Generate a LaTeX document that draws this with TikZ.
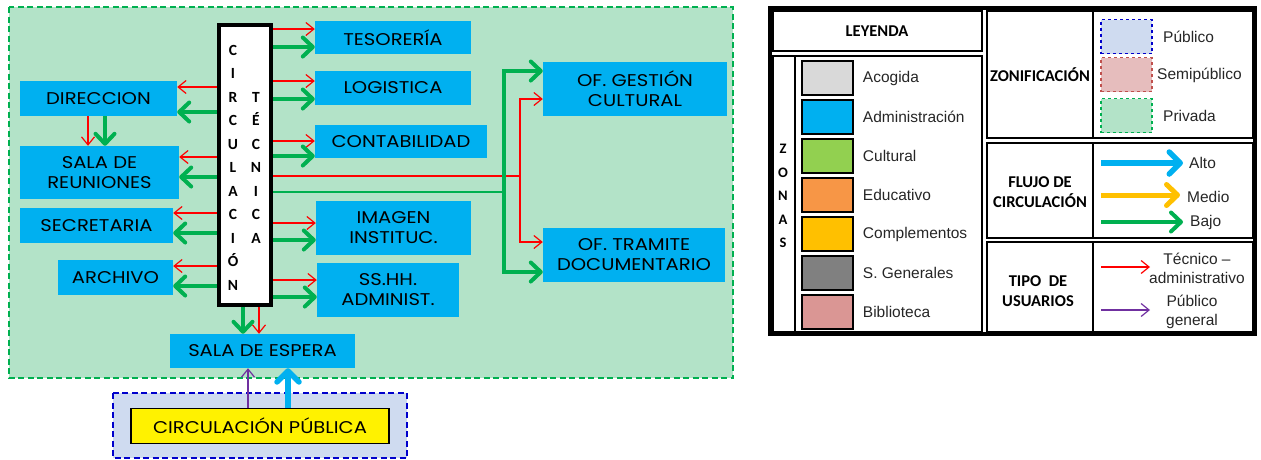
\documentclass[tikz,border=0pt]{standalone}
\usepackage{fontspec}
\setmainfont{Liberation Sans}
\newfontfamily\boxfont[FakeStretch=1.15]{Poppins}
\newfontfamily\capfont{Carlito}
\definecolor{adminBlue}  {HTML}{00B0F0}
\definecolor{privFill}   {HTML}{B3E3C8}
\definecolor{privLine}   {HTML}{00B050}
\definecolor{pubFill}    {HTML}{CFDBF0}
\definecolor{pubLine}    {HTML}{0000CC}
\definecolor{semiFill}   {HTML}{E6BDBD}
\definecolor{semiLine}   {HTML}{C0504D}
\definecolor{tecRed}     {HTML}{FF0000}
\definecolor{pubPurple}  {HTML}{7030A0}
\definecolor{medioYellow}{HTML}{FFC000}
\definecolor{zAcogida}   {HTML}{D9D9D9}
\definecolor{zCultural}  {HTML}{92D050}
\definecolor{zEducativo} {HTML}{F79646}
\definecolor{zGenerales} {HTML}{808080}
\definecolor{zBiblio}    {HTML}{DA9694}
\usetikzlibrary{
  arrows.meta,
  positioning,
}

\begin{document}
\begin{tikzpicture}[
  x=1pt, y=-1pt,
  box/.style={fill=adminBlue, inner sep=0pt, align=center,
    font=\boxfont\fontsize{17}{20}\selectfont},
  tec/.style={draw=tecRed, line width=1.2pt,
    -{Straight Barb[length=8pt,width=13pt]}},
  tecline/.style={draw=tecRed, line width=1.2pt},
  bajo/.style={draw=privLine, line width=4pt,
    -{Straight Barb[length=10pt,width=19pt,round]}},
  bajoline/.style={draw=privLine, line width=2.5pt},
  alto/.style={draw=adminBlue, line width=5.5pt,
    -{Straight Barb[length=11pt,width=22pt,round]}},
  medio/.style={draw=medioYellow, line width=5pt,
    -{Straight Barb[length=11pt,width=21pt,round]}},
  pub/.style={draw=pubPurple, line width=1.2pt,
    -{Straight Barb[length=8pt,width=13pt]}},
  cell/.style={draw, line width=1.6pt},
  cellhead/.style={font=\capfont\bfseries\fontsize{16.5}{19.5}\selectfont, align=center},
  swatch/.style={draw, line width=1.5pt, minimum width=51pt, minimum height=34pt, inner sep=0pt},
  lbl/.style={font=\fontsize{15.5}{19}\selectfont, text=black!85, inner sep=0pt, align=center},
  vtext/.style={font=\capfont\bfseries\fontsize{15.5}{23.5}\selectfont, align=center, inner sep=0pt},
]
  \useasboundingbox (0,0) rectangle (1261,459);

  % Zones
  \draw[privLine, line width=1.5pt, dash pattern=on 6pt off 3.5pt, fill=privFill]
    (9,7) rectangle (733,378);
  \draw[pubLine, line width=1.5pt, dash pattern=on 6pt off 3.5pt, fill=pubFill]
    (113,393) rectangle (407,458);

  % Circulacion tecnica
  \node[draw, line width=4pt, fill=white, minimum width=52pt, minimum height=280pt,
    inner sep=0pt] (circ) at (245,165) {};
  \node[vtext] (circL) at (233,167.5) {C\\I\\R\\C\\U\\L\\A\\C\\I\\Ó\\N};
  \node[vtext] (circR) at (256,167.5) {T\\É\\C\\N\\I\\C\\A};

  % Left boxes
  \node[box, minimum width=157pt, minimum height=35pt] (dir)  at (98.5,98.5)  {DIRECCION};
  \node[box, minimum width=159pt, minimum height=53pt] (reun) at (99.5,172.5) {SALA DE\\REUNIONES};
  \node[box, minimum width=153pt, minimum height=35pt] (secr) at (96.5,225.5) {SECRETARIA};
  \node[box, minimum width=115pt, minimum height=35pt] (arch) at (115.5,277.5) {ARCHIVO};

  % Right boxes
  \node[box, minimum width=156pt, minimum height=33pt] (tes)  at (393,37.5)  {TESORERÍA};
  \node[box, minimum width=156pt, minimum height=34pt] (logi) at (393,88)    {LOGISTICA};
  \node[box, minimum width=172pt, minimum height=33pt] (cont) at (401,141.5) {CONTABILIDAD};
  \node[box, minimum width=155pt, minimum height=54pt] (imag) at (393.5,228) {IMAGEN\\INSTITUC.};
  \node[box, minimum width=142pt, minimum height=54pt] (sshh) at (388,290)   {SS.HH.\\ADMINIST.};
  \node[box, minimum width=184pt, minimum height=54pt] (gest) at (635,89)    {OF. GESTIÓN\\CULTURAL};
  \node[box, minimum width=182pt, minimum height=54pt] (tram) at (634,255)   {OF. TRAMITE\\DOCUMENTARIO};

  % Espera and public circulation
  \node[box, minimum width=185pt, minimum height=34pt] (esp) at (262.5,351) {SALA DE ESPERA};
  \node[box, fill=yellow, draw=black, line width=1.5pt, minimum width=258pt,
    minimum height=35pt] (cpub) at (260,426) {CIRCULACIÓN PÚBLICA};

  % Flows to the left
  \draw[tec]  ([yshift=11.5pt]circ.west |- dir.east)   -- ([yshift=11.5pt]dir.east);
  \draw[bajo] ([yshift=-13.5pt]circ.west |- dir.east)  -- ([yshift=-13.5pt]dir.east);
  \draw[tec]  ([yshift=15.5pt]circ.west |- reun.east)  -- ([yshift=15.5pt]reun.east);
  \draw[bajo] ([yshift=-4.5pt]circ.west |- reun.east)  -- ([yshift=-4.5pt]reun.east);
  \draw[tec]  ([yshift=12.5pt]circ.west |- secr.east)  -- ([yshift=12.5pt]secr.east);
  \draw[bajo] ([yshift=-7.5pt]circ.west |- secr.east)  -- ([yshift=-7.5pt]secr.east);
  \draw[tec]  ([yshift=11.5pt]circ.west |- arch.east)  -- ([yshift=11.5pt]arch.east);
  \draw[bajo] ([yshift=-8.5pt]circ.west |- arch.east)  -- ([yshift=-8.5pt]arch.east);
  \draw[tec]  ([xshift=-10.5pt]dir.south) -- ([xshift=-10.5pt]dir.south |- reun.north);
  \draw[bajo] ([xshift=6.5pt]dir.south)   -- ([xshift=6.5pt]dir.south |- reun.north);

  % Flows to the right
  \draw[tec]  ([yshift=8.5pt]circ.east |- tes.west)    -- ([yshift=8.5pt]tes.west);
  \draw[bajo] ([yshift=-9.5pt]circ.east |- tes.west)   -- ([yshift=-9.5pt]tes.west);
  \draw[tec]  ([yshift=7pt]circ.east |- logi.west)     -- ([yshift=7pt]logi.west);
  \draw[bajo] ([yshift=-11pt]circ.east |- logi.west)   -- ([yshift=-11pt]logi.west);
  \draw[tec]  ([yshift=0.5pt]circ.east |- cont.west)   -- ([yshift=0.5pt]cont.west);
  \draw[bajo] ([yshift=-14.5pt]circ.east |- cont.west) -- ([yshift=-14.5pt]cont.west);
  \draw[tec]  ([yshift=5pt]circ.east |- imag.west)     -- ([yshift=5pt]imag.west);
  \draw[bajo] ([yshift=-12pt]circ.east |- imag.west)   -- ([yshift=-12pt]imag.west);
  \draw[tec]  ([yshift=10pt]circ.east |- sshh.west)    -- ([yshift=10pt]sshh.west);
  \draw[bajo] ([yshift=-7pt]circ.east |- sshh.west)    -- ([yshift=-7pt]sshh.west);

  % Branches to the offices
  \coordinate (rj) at (520,176);
  \coordinate (gj) at (504,192);
  \draw[tecline]  (circ.east |- rj) -- (rj);
  \draw[tec]      (rj) |- ([yshift=-10pt]gest.west);
  \draw[tec]      (rj) |- ([yshift=13pt]tram.west);
  \draw[bajoline] (circ.east |- gj) -- (gj);
  \draw[bajo]     (gj) |- ([yshift=18pt]gest.west);
  \draw[bajo]     (gj) |- ([yshift=-17pt]tram.west);

  % Down to espera, up from public
  \draw[bajo] ([xshift=-2pt]circ.south) -- ([xshift=-2pt]circ.south |- esp.north);
  \draw[tec]  ([xshift=14pt]circ.south) -- ([xshift=14pt]circ.south |- esp.north);
  \draw[pub]  ([xshift=-12pt]cpub.north) -- ([xshift=-12pt]cpub.north |- esp.south);
  \draw[alto] ([xshift=28pt]cpub.north)  -- ([xshift=28pt]cpub.north |- esp.south);

  % ---- Legend ----
  \draw[line width=4pt] (770,8) rectangle (1255,334);
  \draw[cell] (773,11) rectangle (982,51);
  \node[cellhead] (leyenda) at (877,31) {LEYENDA};
  \draw[cell] (773,56) rectangle (982,332);
  \draw[cell] (795,56) -- (795,332);
  \node[vtext, font=\capfont\bfseries\fontsize{14.5}{23.5}\selectfont] (zonas) at (783,196) {Z\\O\\N\\A\\S};
  \foreach \col/\name [count=\i] in {zAcogida/Acogida, adminBlue/Administración,
      zCultural/Cultural, zEducativo/Educativo, medioYellow/Complementos,
      zGenerales/S. Generales, zBiblio/Biblioteca}{
    \node[swatch, fill=\col] (sw\i) at (827.5,{78+39*(\i-1)}) {};
    \node[lbl, right=9pt of sw\i] (swl\i) {\name};
  }

  % Zonificacion
  \draw[cell] (987,11) rectangle (1253,138);
  \draw[cell] (1093,11) -- (1093,138);
  \node[cellhead] (zonif) at (1040,75) {ZONIFICACIÓN};
  \node[swatch, dashed, draw=pubLine, fill=pubFill]    (zpub)  at (1126.5,36.5)  {};
  \node[swatch, dashed, draw=semiLine, fill=semiFill]  (zsemi) at (1126.5,74.5)  {};
  \node[swatch, dashed, draw=privLine, fill=privFill]  (zpriv) at (1126.5,115.5) {};
  \node[lbl, anchor=west] (lpub)  at (1163,37)  {Público};
  \node[lbl, anchor=west] (lsemi) at (1157,75)  {Semipúblico};
  \node[lbl, anchor=west] (lpriv) at (1163,116) {Privada};

  % Flujo
  \draw[cell] (987,143) rectangle (1253,238);
  \draw[cell] (1093,143) -- (1093,238);
  \node[cellhead] (flujo) at (1040,192) {FLUJO DE\\CIRCULACIÓN};
  \node[lbl, anchor=west] (lalto)  at (1189,163) {Alto};
  \node[lbl, anchor=west] (lmedio) at (1187,197) {Medio};
  \node[lbl, anchor=west] (lbajo)  at (1190,222) {Bajo};
  \coordinate (altoS)  at (1101,163);
  \coordinate (medioS) at (1101,195);
  \coordinate (bajoS)  at (1101,222);
  \draw[alto]  (altoS)  -- ([xshift=-6pt]lalto.west |- altoS);
  \draw[medio] (medioS) -- ([xshift=-7pt]lmedio.west |- medioS);
  \draw[bajo]  (bajoS)  -- ([xshift=-7pt]lbajo.west |- bajoS);

  % Tipo de usuarios
  \draw[cell] (987,242) rectangle (1253,332);
  \draw[cell] (1093,242) -- (1093,332);
  \node[cellhead] (tipo) at (1038,291) {TIPO\ \ DE\\USUARIOS};
  \node[lbl] (ltec) at (1197,268) {Técnico –\\administrativo};
  \node[lbl] (lgen) at (1192,312) {Público\\general};
  \coordinate (tecS) at (1101,267);
  \coordinate (tecE) at (1150,267);
  \coordinate (genS) at (1101,310);
  \coordinate (genE) at (1150,310);
  \draw[tec] (tecS) -- (tecE);
  \draw[pub] (genS) -- (genE);
\end{tikzpicture}
\end{document}
